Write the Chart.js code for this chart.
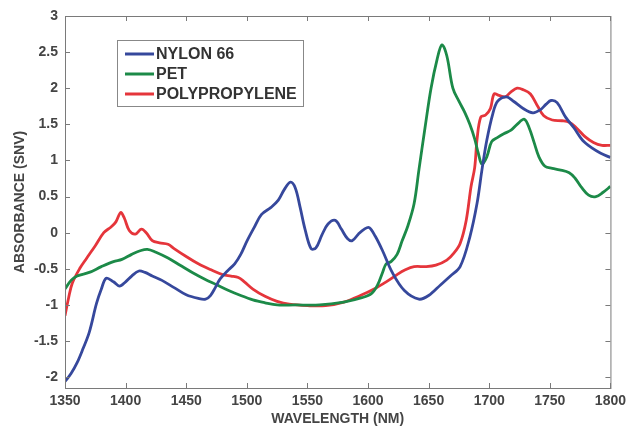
<!DOCTYPE html>
<html>
<head>
<meta charset="utf-8">
<script src="https://cdn.jsdelivr.net/npm/chart.js@4.4.1/dist/chart.umd.min.js"></script>
<style>
  html, body { margin: 0; padding: 0; background: #fff; }
  #wrap { width: 631px; height: 428px; }
</style>
</head>
<body>
<div id="wrap"><canvas id="graphe"></canvas></div>
<script>
// Données (longueur d'onde en nm, absorbance SNV)
const nylonX = [1350,1355,1360,1365,1370,1376,1380,1384,1390,1395,1400,1405,1411,1416,1422,1430,1440,1450,1460,1466,1470,1474,1478,1484,1490,1495,1500,1506,1512,1520,1526,1531,1536,1540,1544,1548,1553,1557,1562,1567,1573,1578,1583,1587,1592,1597,1601,1606,1612,1620,1630,1642,1650,1660,1668,1676,1684,1690,1694,1698,1703,1707,1714,1720,1728,1736,1742,1747,1751,1756,1763,1770,1777,1785,1792,1800];
const nylonY = [-2.06,-1.95,-1.8,-1.6,-1.38,-0.98,-0.78,-0.63,-0.68,-0.74,-0.68,-0.6,-0.53,-0.55,-0.6,-0.66,-0.76,-0.86,-0.91,-0.92,-0.87,-0.76,-0.64,-0.53,-0.43,-0.3,-0.12,0.07,0.25,0.35,0.45,0.6,0.7,0.62,0.35,0.05,-0.22,-0.21,-0.03,0.12,0.17,0.05,-0.08,-0.11,-0.02,0.05,0.07,-0.05,-0.25,-0.55,-0.8,-0.92,-0.87,-0.72,-0.6,-0.47,-0.06,0.41,0.87,1.28,1.65,1.82,1.88,1.82,1.72,1.66,1.7,1.78,1.83,1.8,1.6,1.45,1.28,1.17,1.1,1.04];

const petX = [1350,1355,1360,1370,1380,1390,1397,1405,1412,1418,1425,1435,1445,1455,1465,1475,1485,1495,1505,1515,1525,1540,1560,1580,1595,1603,1608,1612,1615,1619,1624,1628,1633,1638,1642,1647,1652,1657,1661,1665,1670,1675,1680,1684,1688,1691,1694,1698,1702,1707,1712,1718,1723,1729,1733,1737,1741,1746,1752,1758,1766,1771,1776,1782,1788,1794,1800];
const petY = [-0.78,-0.66,-0.6,-0.55,-0.47,-0.4,-0.37,-0.3,-0.25,-0.23,-0.27,-0.35,-0.45,-0.55,-0.64,-0.72,-0.8,-0.87,-0.93,-0.97,-1.0,-1.0,-1.0,-0.96,-0.9,-0.84,-0.72,-0.55,-0.43,-0.4,-0.3,-0.12,0.1,0.4,0.87,1.45,2.0,2.4,2.6,2.45,2.0,1.82,1.66,1.5,1.3,1.1,0.95,1.05,1.26,1.32,1.37,1.42,1.5,1.57,1.45,1.25,1.05,0.92,0.89,0.87,0.83,0.75,0.63,0.52,0.5,0.56,0.64];

const ppX = [1350,1353,1356,1362,1368,1375,1382,1388,1392,1396,1399,1403,1408,1413,1417,1422,1428,1435,1440,1450,1460,1470,1480,1487,1493,1498,1505,1515,1525,1535,1550,1565,1580,1595,1605,1615,1624,1630,1638,1648,1656,1665,1671,1676,1681,1685,1688,1690,1693,1697,1701,1704,1708,1713,1718,1723,1728,1734,1740,1745,1752,1760,1766,1772,1779,1786,1793,1800];
const ppY = [-1.15,-0.9,-0.7,-0.5,-0.35,-0.18,0.0,0.08,0.15,0.28,0.2,0.03,-0.02,0.05,0.0,-0.11,-0.14,-0.16,-0.22,-0.33,-0.43,-0.51,-0.58,-0.6,-0.62,-0.68,-0.78,-0.88,-0.95,-0.99,-1.01,-1.01,-0.96,-0.86,-0.78,-0.68,-0.58,-0.52,-0.47,-0.47,-0.45,-0.38,-0.28,-0.15,0.17,0.64,0.9,1.3,1.6,1.63,1.72,1.92,1.9,1.88,1.95,2.0,1.98,1.92,1.75,1.62,1.56,1.55,1.53,1.45,1.33,1.25,1.21,1.21];

const seriesLabels = ['NYLON 66', 'PET', 'POLYPROPYLENE'];
const seriesColors = ['#36489c', '#1c8a48', '#e5353b'];
const xTicks = [1350, 1400, 1450, 1500, 1550, 1600, 1650, 1700, 1750, 1800];
const yTicks = [-2, -1.5, -1, -0.5, 0, 0.5, 1, 1.5, 2, 2.5, 3];

function points(xs, ys) {
    return xs.map((x, i) => ({ x: x, y: ys[i] }));
}

const police = 'Liberation Sans, Arial, sans-serif';
const gris = '#7a7a7a';

// Cadre complet + graduations vers l'intérieur (style Matlab)
const cadrePlugin = {
    id: 'cadre',
    afterDraw(chart) {
        const ctx = chart.ctx;
        const a = chart.chartArea;
        const sx = chart.scales.x;
        const sy = chart.scales.y;
        ctx.save();
        ctx.strokeStyle = gris;
        ctx.lineWidth = 1;
        ctx.strokeRect(a.left + 0.5, a.top + 0.5, a.right - a.left, a.bottom - a.top);
        ctx.beginPath();
        for (const t of xTicks) {
            const px = Math.round(sx.getPixelForValue(t)) + 0.5;
            ctx.moveTo(px, a.bottom); ctx.lineTo(px, a.bottom - 5);
            ctx.moveTo(px, a.top); ctx.lineTo(px, a.top + 5);
        }
        for (const t of yTicks) {
            const py = Math.round(sy.getPixelForValue(t)) + 0.5;
            ctx.moveTo(a.left, py); ctx.lineTo(a.left + 5, py);
            ctx.moveTo(a.right, py); ctx.lineTo(a.right - 5, py);
        }
        ctx.stroke();

        // légende dans le graphique
        const lx = a.left + 52, ly = a.top + 24, lw = 186, lh = 66;
        ctx.fillStyle = '#fff';
        ctx.fillRect(lx, ly, lw, lh);
        ctx.strokeStyle = '#888';
        ctx.strokeRect(lx + 0.5, ly + 0.5, lw, lh);
        ctx.font = 'bold 16px ' + police;
        ctx.textBaseline = 'middle';
        chart.data.datasets.forEach((ds, i) => {
            const yy = ly + 14 + i * 20;
            ctx.strokeStyle = ds.borderColor;
            ctx.lineWidth = 3;
            ctx.beginPath();
            ctx.moveTo(lx + 8, yy); ctx.lineTo(lx + 37, yy);
            ctx.stroke();
            ctx.fillStyle = '#333';
            ctx.fillText(ds.label, lx + 39, yy + 1);
        });
        ctx.restore();
    }
};

const ctx = document.getElementById('graphe').getContext('2d');
const monGraphique = new Chart(ctx, {
    type: 'line',
    data: {
        datasets: [
            { label: seriesLabels[0], data: points(nylonX, nylonY), borderColor: seriesColors[0] },
            { label: seriesLabels[1], data: points(petX, petY), borderColor: seriesColors[1] },
            { label: seriesLabels[2], data: points(ppX, ppY), borderColor: seriesColors[2] }
        ].map(d => Object.assign(d, { borderWidth: 2.8, pointRadius: 0, tension: 0.35, fill: false }))
    },
    options: {
        responsive: true,
        maintainAspectRatio: false,
        animation: false,
        layout: { padding: { top: 16, right: 16, left: 0, bottom: 0 } },
        plugins: {
            legend: { display: false },
            tooltip: { enabled: false }
        },
        scales: {
            x: {
                type: 'linear',
                min: 1350,
                max: 1800,
                afterBuildTicks: s => { s.ticks = xTicks.map(v => ({ value: v })); },
                afterFit: s => { s.height = 40; },
                grid: { drawOnChartArea: false, drawTicks: false },
                border: { display: false },
                ticks: {
                    padding: 5,
                    color: '#444',
                    font: { family: police, size: 14, weight: 'bold' },
                    maxRotation: 0,
                    callback: v => String(v)
                },
                title: {
                    display: true,
                    text: 'WAVELENGTH (NM)',
                    color: '#444',
                    padding: 0,
                    font: { family: police, size: 14, weight: 'bold' }
                }
            },
            y: {
                type: 'linear',
                min: -2.15,
                max: 3,
                afterBuildTicks: s => { s.ticks = yTicks.map(v => ({ value: v })); },
                afterFit: s => { s.width = 65; },
                grid: { drawOnChartArea: false, drawTicks: false },
                border: { display: false },
                ticks: {
                    padding: 7,
                    color: '#444',
                    font: { family: police, size: 14, weight: 'bold' },
                    callback: v => String(v)
                },
                title: {
                    display: true,
                    text: 'ABSORBANCE (SNV)',
                    color: '#444',
                    padding: { top: 12, bottom: 0 },
                    font: { family: police, size: 14, weight: 'bold' }
                }
            }
        }
    },
    plugins: [cadrePlugin]
});
</script>
</body>
</html>
